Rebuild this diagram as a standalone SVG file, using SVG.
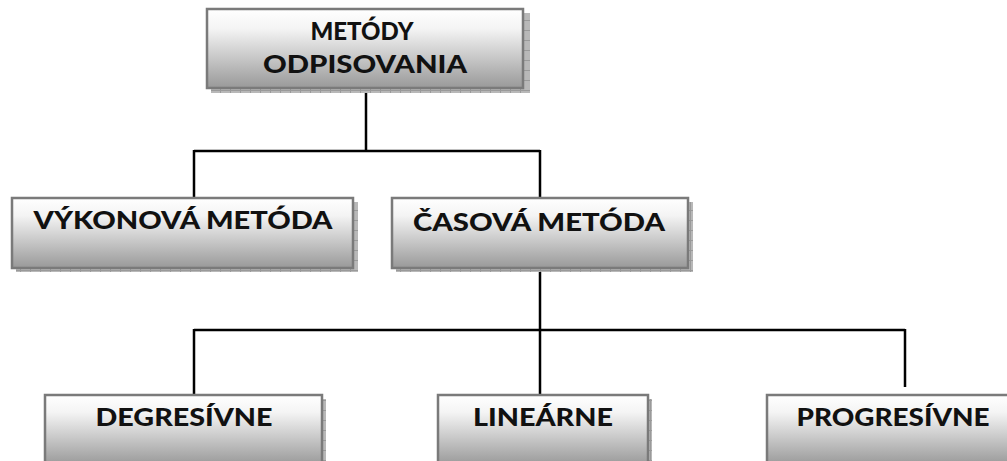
<svg xmlns="http://www.w3.org/2000/svg" width="1007" height="461" viewBox="0 0 1007 461">
<defs>
<linearGradient id="g" x1="0" y1="0" x2="0" y2="1">
<stop offset="0" stop-color="#ffffff"/>
<stop offset="0.25" stop-color="#f4f4f4"/>
<stop offset="1" stop-color="#999999"/>
</linearGradient>
<pattern id="sh" width="10" height="10" patternUnits="userSpaceOnUse">
<rect width="10" height="10" fill="#b8b8b8"/>
<path d="M0.5 0V10M0 0.5H10" stroke="#9a9a9a" stroke-width="1"/>
</pattern>
</defs>
<style>
.box{fill:url(#g);stroke:#7a7a7a;stroke-width:2.5}
.shadow{fill:url(#sh)}
.t{font-family:Lato,"Open Sans","Liberation Sans",sans-serif;font-weight:900;font-size:25px;fill:#111;text-anchor:middle}
.c{fill:none;stroke:#000;stroke-width:2.5}
</style>
<rect width="1007" height="461" fill="#fff"/>
<g id="connectors">
<path class="c" d="M366 89V151M194 151H540M194 150V198M540 150V198M540 268V330M194 330H905M194 329V395M540 329V395M905 329V387"/>
</g>
<g id="n-metody">
<rect class="shadow" x="211" y="13" width="319" height="80"/>
<rect class="box" x="207" y="9" width="316" height="79"/>
<text class="t" x="362" y="40" textLength="103" lengthAdjust="spacingAndGlyphs">METÓDY</text>
<text class="t" x="365" y="73" textLength="204" lengthAdjust="spacingAndGlyphs">ODPISOVANIA</text>
</g>
<g id="n-vykonova">
<rect class="shadow" x="16" y="202" width="342" height="70"/>
<rect class="box" x="12" y="198" width="341" height="70"/>
<text class="t" x="183" y="229" textLength="299" lengthAdjust="spacingAndGlyphs">VÝKONOVÁ METÓDA</text>
</g>
<g id="n-casova">
<rect class="shadow" x="396" y="202" width="297" height="70"/>
<rect class="box" x="392" y="198" width="296" height="70"/>
<text class="t" x="539" y="231" textLength="252" lengthAdjust="spacingAndGlyphs">ČASOVÁ METÓDA</text>
</g>
<g id="n-degresivne">
<rect class="shadow" x="49" y="399" width="277" height="70"/>
<rect class="box" x="45" y="395" width="277" height="70"/>
<text class="t" x="184" y="426" textLength="177" lengthAdjust="spacingAndGlyphs">DEGRESÍVNE</text>
</g>
<g id="n-linearne">
<rect class="shadow" x="442" y="399" width="210" height="70"/>
<rect class="box" x="438" y="395" width="210" height="70"/>
<text class="t" x="543" y="426" textLength="140" lengthAdjust="spacingAndGlyphs">LINEÁRNE</text>
</g>
<g id="n-progresivne">
<rect class="shadow" x="771" y="399" width="250" height="70"/>
<rect class="box" x="767" y="395" width="250" height="70"/>
<text class="t" x="893" y="426" textLength="193" lengthAdjust="spacingAndGlyphs">PROGRESÍVNE</text>
</g>
</svg>
